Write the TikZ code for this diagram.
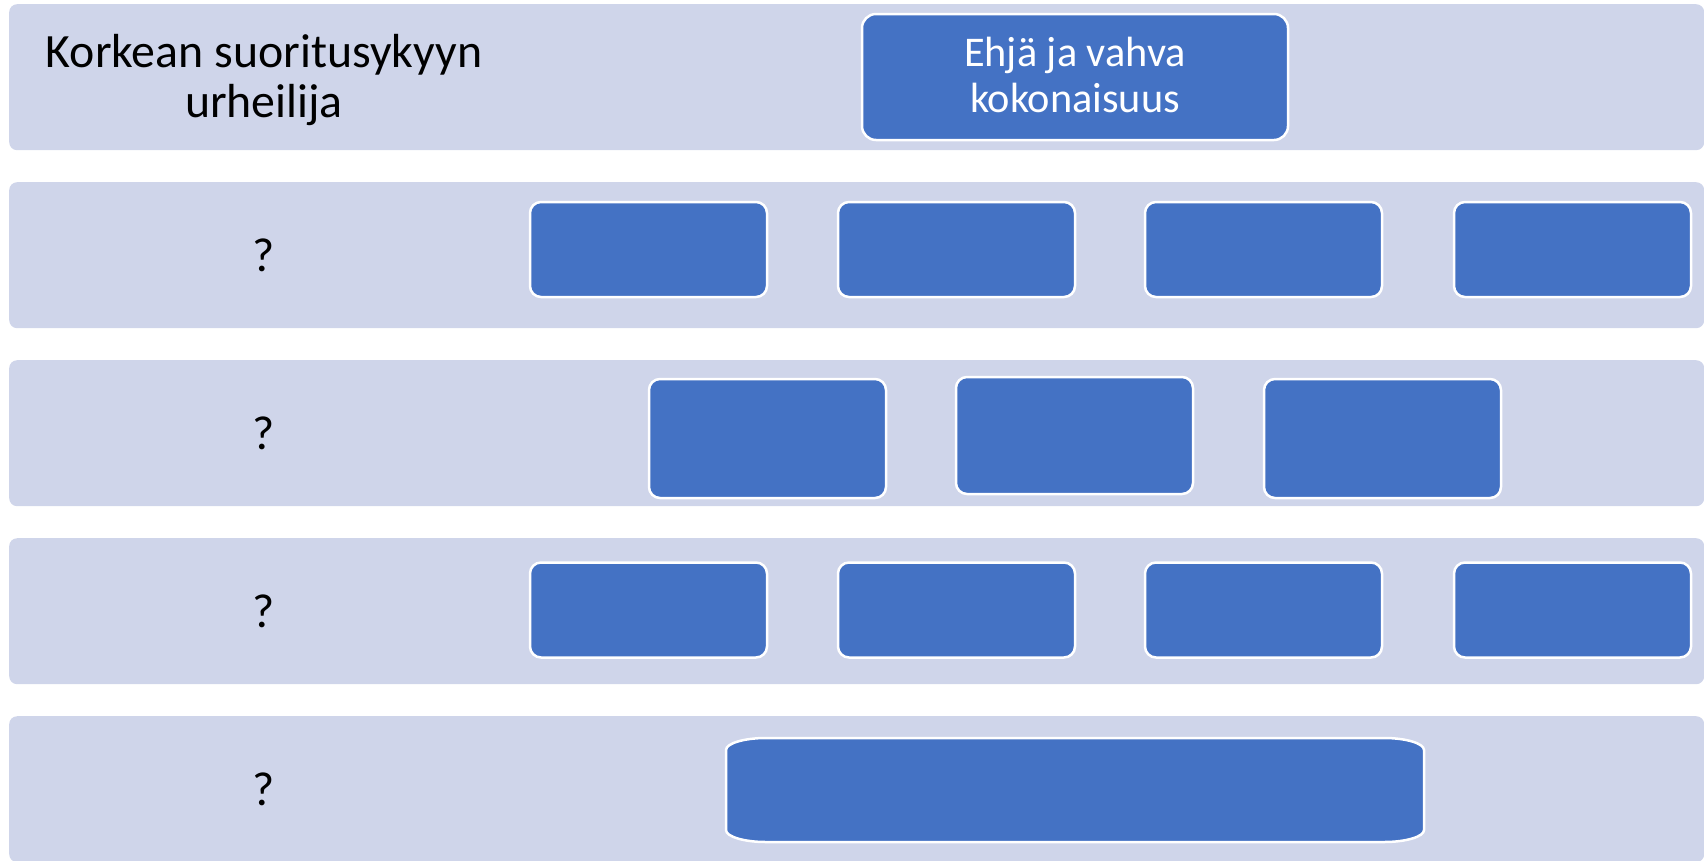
\documentclass[tikz,border=0pt]{standalone}
\usepackage{fontspec}
\setmainfont{Carlito}
\definecolor{bandc}{HTML}{CFD5EA}
\definecolor{boxc}{HTML}{4472C4}
\begin{document}
\begin{tikzpicture}[x=1pt,y=-1pt,
  band/.style={fill=bandc, draw=none, rounded corners=8pt, minimum width=1695pt, minimum height=146pt, inner sep=0pt, anchor=north west},
  bluebox/.style={fill=boxc, draw=white, line width=2.5pt, rounded corners=11pt, inner sep=0pt},
  lbl/.style={font=\fontsize{47.8}{50.5}\selectfont, align=center, text=black, inner sep=0pt},
  toplbl/.style={font=\fontsize{42.3}{45.5}\selectfont, align=center, text=white, inner sep=0pt},
  rowbox/.style={bluebox, minimum width=237pt, minimum height=95pt},
  midbox/.style={bluebox, minimum width=237pt, minimum height=119pt}
]
\useasboundingbox (0,0) rectangle (1704,860);
% bands
\node[band] (b1) at (9,4) {};
\node[band] (b2) at (9,182) {};
\node[band] (b3) at (9,360) {};
\node[band] (b4) at (9,538) {};
\node[band] (b5) at (9,716) {};
% left labels
\node[lbl] (l1) at (264,80) {Korkean suoritusykyyn\\urheilija};
\node[lbl] (l2) at (264,255) {?};
\node[lbl] (l3) at (264,433) {?};
\node[lbl] (l4) at (264,611) {?};
\node[lbl] (l5) at (264,789) {?};
% top box
\node[bluebox, rounded corners=14pt, minimum width=426pt, minimum height=126pt] (top) at (1075,77) {};
\node[toplbl] (toptext) at (1075,75) {Ehjä ja vahva\\kokonaisuus};
% row 2
\node[rowbox] (r2a) at (648.5,249.5) {};
\node[rowbox] (r2b) at (956.5,249.5) {};
\node[rowbox] (r2c) at (1263.5,249.5) {};
\node[rowbox] (r2d) at (1572.5,249.5) {};
% row 3
\node[midbox] (r3a) at (767.5,438.5) {};
\node[midbox, minimum height=117pt] (r3b) at (1074.5,435.5) {};
\node[midbox] (r3c) at (1382.5,438.5) {};
% row 4
\node[rowbox] (r4a) at (648.5,610) {};
\node[rowbox] (r4b) at (956.5,610) {};
\node[rowbox] (r4c) at (1263.5,610) {};
\node[rowbox] (r4d) at (1572.5,610) {};
% row 5 (elliptical corners)
\draw[fill=boxc, draw=white, line width=2.5pt]
  (766,738) -- (1384,738) arc[start angle=-90, end angle=0, x radius=40, y radius=12]
  -- (1424,830) arc[start angle=0, end angle=90, x radius=40, y radius=12]
  -- (766,842) arc[start angle=90, end angle=180, x radius=40, y radius=12]
  -- (726,750) arc[start angle=180, end angle=270, x radius=40, y radius=12] -- cycle;
\end{tikzpicture}
\end{document}
